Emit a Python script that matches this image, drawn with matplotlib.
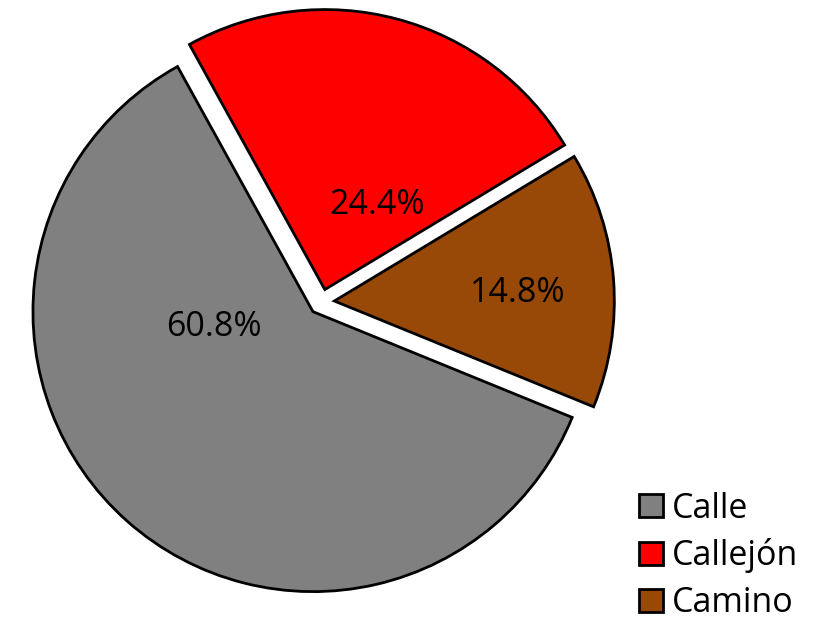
import matplotlib
matplotlib.use("Agg")
import matplotlib.pyplot as plt

# road types and their share
categories = ["Calle", "Callejón", "Camino"]
shares = [60.8, 24.4, 14.8]
colors = ["#808080", "#FF0000", "#984807"]

# label spots inside each wedge (data coords, radius = 1)
label_xy = [(-0.384, -0.089), (0.198, 0.346), (0.702, 0.032)]

plt.rcParams["font.family"] = ["Open Sans", "DejaVu Sans"]

fig = plt.figure(figsize=(8.17, 6.23), dpi=100)
ax = fig.add_axes([0, 0, 1, 1])

wedges, texts, autotexts = ax.pie(
    shares,
    colors=colors,
    explode=[0.046] * len(shares),
    startangle=-22.2,
    counterclock=False,
    radius=1.0,
    autopct="%.1f%%",
    wedgeprops=dict(edgecolor="black", linewidth=2),
    textprops=dict(fontsize=24.5, color="black"),
)
for t, (x, y) in zip(autotexts, label_xy):
    t.set_position((x, y))
    t.set_ha("center")
    t.set_va("center")

# 1 data unit = 280 px, pie centre at (321.5, 302) px from top-left
scale = 280.0
ax.set_xlim(-321.5 / scale, (817 - 321.5) / scale)
ax.set_ylim(-(623 - 302) / scale, 302 / scale)
ax.set_aspect("auto")
ax.axis("off")

ax.legend(
    wedges, categories,
    loc="upper left",
    bbox_to_anchor=(0.782, 0.211),
    bbox_transform=fig.transFigure,
    frameon=False,
    fontsize=24.5,
    handlelength=0.72,
    handleheight=0.68,
    handletextpad=0.25,
    labelspacing=0.38,
    borderpad=0,
    borderaxespad=0,
)

fig.savefig("out.png", dpi=100)
